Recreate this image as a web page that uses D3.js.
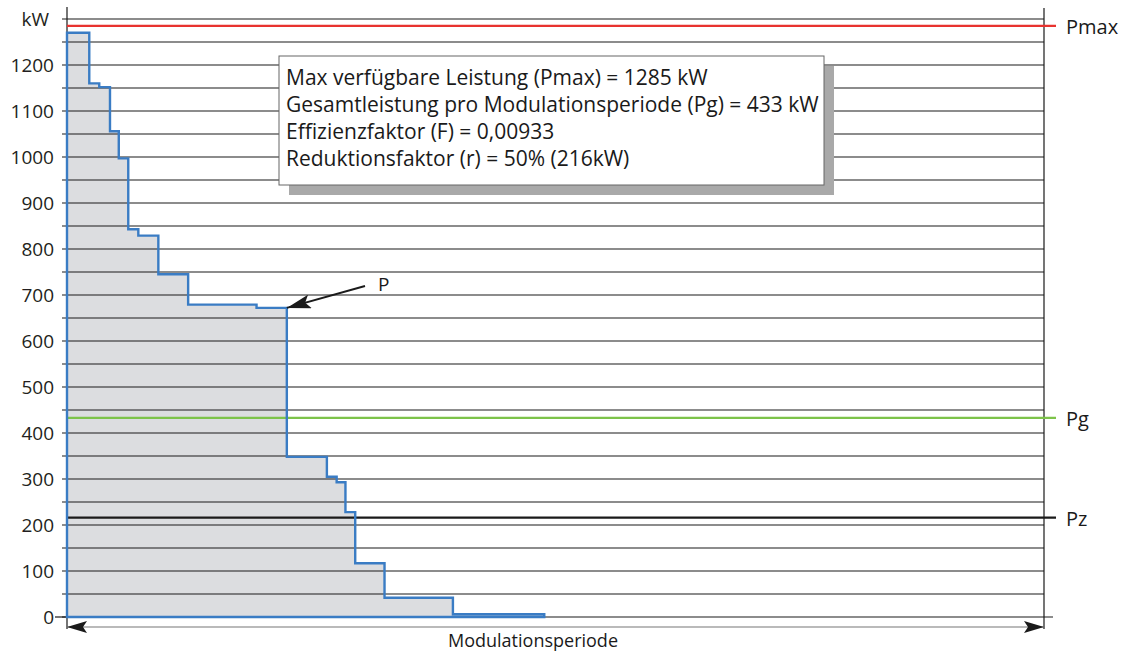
<!DOCTYPE html>
<html><head><meta charset="utf-8">
<script src="https://cdn.jsdelivr.net/npm/d3@7"></script>
<style>
html,body{margin:0;padding:0;background:#fff;}
svg{display:block;}
</style></head>
<body>
<svg id="chart" width="1125" height="652"></svg>
<script>
// ---- data ----
const stepStarts = [0, 2.28, 3.3, 4.4, 5.3, 6.27, 7.3, 9.35, 12.4, 19.4, 22.5, 26.6, 27.6, 28.5, 29.5, 32.5, 39.5];
const stepValues = [1270, 1160, 1152, 1056, 997, 843, 829, 745, 679, 672, 348, 305, 293, 228, 117, 42, 6];
const periodEnd = 48.85;
const yTickLabels = [0,100,200,300,400,500,600,700,800,900,1000,1100,1200];
const gridValues = d3.range(0, 1301, 50);
const refLines = [
  {name: "Pmax", value: 1285, color: "#e8332f"},
  {name: "Pg", value: 433, color: "#7dc34a"},
  {name: "Pz", value: 216, color: "#1a1a1a"}
];
const infoLines = [
  "Max verfügbare Leistung (Pmax) = 1285 kW",
  "Gesamtleistung pro Modulationsperiode (Pg) = 433 kW",
  "Effizienzfaktor (F) = 0,00933",
  "Reduktionsfaktor (r) = 50% (216kW)"
];
const xAxisTitle = "Modulationsperiode";
const yUnit = "kW";
const pointLabel = "P";

// ---- scales ----
const svg = d3.select("#chart");
const x = d3.scaleLinear().domain([0, 100]).range([67, 1044]);
const y = d3.scaleLinear().domain([0, 1300]).range([617, 19]);
const font = "'Open Sans', 'Noto Sans', sans-serif";

// ---- filled step area ----
const pts = [[x(0), y(0)]];
stepStarts.forEach((s, i) => {
  const e = i < stepStarts.length - 1 ? stepStarts[i + 1] : periodEnd;
  pts.push([x(s), y(stepValues[i])]);
  pts.push([x(e), y(stepValues[i])]);
});
pts.push([x(periodEnd), y(0)]);
const line = d3.line();
svg.append("path").attr("d", line(pts) + "Z")
  .attr("fill", "#dcdde0").attr("stroke", "none");

// ---- grid lines ----
svg.append("g").selectAll("line").data(gridValues).join("line")
  .attr("x1", 62).attr("x2", d => d === 0 ? 1053 : x(100))
  .attr("y1", d => y(d)).attr("y2", d => y(d))
  .attr("stroke", "#1a1a1a").attr("stroke-width", 1.2);

// zero tick longer
svg.append("line").attr("x1", 55).attr("x2", 67).attr("y1", y(0)).attr("y2", y(0))
  .attr("stroke", "#1a1a1a").attr("stroke-width", 1.2);

// ---- axes verticals ----
svg.append("line").attr("x1", x(0)).attr("x2", x(0)).attr("y1", 7).attr("y2", 629)
  .attr("stroke", "#1a1a1a").attr("stroke-width", 1.2);
svg.append("line").attr("x1", x(100)).attr("x2", x(100)).attr("y1", 8).attr("y2", 629)
  .attr("stroke", "#1a1a1a").attr("stroke-width", 1.2);

// ---- reference lines ----
refLines.forEach(r => {
  svg.append("line").attr("x1", x(0)).attr("x2", 1056)
    .attr("y1", y(r.value)).attr("y2", y(r.value))
    .attr("stroke", r.color).attr("stroke-width", r.name === "Pz" ? 2.2 : 2.2);
  svg.append("text").attr("x", 1066).attr("y", y(r.value) + 8)
    .attr("font-family", font).attr("font-size", 20).attr("fill", "#1a1a1a")
    .text(r.name);
});

// ---- step outline ----
svg.append("path").attr("d", line(pts) + "Z")
  .attr("fill", "none").attr("stroke", "#3a7cc4").attr("stroke-width", 2.4)
  .attr("stroke-linejoin", "miter");

// ---- y labels ----
svg.append("g").selectAll("text").data(yTickLabels).join("text")
  .attr("x", 54).attr("y", d => y(d) + 7)
  .attr("text-anchor", "end").attr("font-family", font).attr("font-size", 19)
  .attr("fill", "#231f20").text(d => d);
svg.append("text").attr("x", 49).attr("y", y(1300) + 7)
  .attr("text-anchor", "end").attr("font-family", font).attr("font-size", 19)
  .attr("fill", "#231f20").text(yUnit);

// ---- x axis double arrow ----
const defs = svg.append("defs");
defs.append("marker").attr("id", "ah").attr("viewBox", "0 0 20 12")
  .attr("refX", 20).attr("refY", 6).attr("markerWidth", 20).attr("markerHeight", 12)
  .attr("markerUnits", "userSpaceOnUse").attr("orient", "auto-start-reverse")
  .append("path").attr("d", "M0,0 L20,6 L0,12 L4,6 Z").attr("fill", "#1a1a1a");
svg.append("line").attr("x1", x(0)).attr("x2", x(100)).attr("y1", 627).attr("y2", 627)
  .attr("stroke", "#777").attr("stroke-width", 1.2)
  .attr("marker-start", "url(#ah)").attr("marker-end", "url(#ah)");
svg.append("text").attr("x", 533).attr("y", 647).attr("text-anchor", "middle")
  .attr("font-family", font).attr("font-size", 18).attr("fill", "#1a1a1a").text(xAxisTitle);

// ---- P arrow ----
const pIdx = 9;
const px = x(stepStarts[pIdx + 1]), py = y(stepValues[pIdx]);
defs.append("marker").attr("id", "ah2").attr("viewBox", "0 0 24 14")
  .attr("refX", 24).attr("refY", 7).attr("markerWidth", 24).attr("markerHeight", 14)
  .attr("markerUnits", "userSpaceOnUse").attr("orient", "auto")
  .append("path").attr("d", "M0,0 L24,7 L0,14 L5,7 Z").attr("fill", "#1a1a1a");
svg.append("line").attr("x1", 365).attr("y1", 286).attr("x2", px).attr("y2", py)
  .attr("stroke", "#1a1a1a").attr("stroke-width", 2).attr("marker-end", "url(#ah2)");
svg.append("text").attr("x", 378).attr("y", 291).attr("font-family", font)
  .attr("font-size", 19).attr("fill", "#1a1a1a").text(pointLabel);

// ---- info box ----
const bx = 279, by = 56, bw = 545, bh = 129;
svg.append("rect").attr("x", bx + 10).attr("y", by + 10).attr("width", bw).attr("height", bh)
  .attr("fill", "#a9a9a9");
svg.append("rect").attr("x", bx).attr("y", by).attr("width", bw).attr("height", bh)
  .attr("fill", "#fff").attr("stroke", "#666").attr("stroke-width", 1);
svg.append("g").selectAll("text").data(infoLines).join("text")
  .attr("x", 286).attr("y", (d, i) => 85 + i * 27)
  .attr("font-family", font).attr("font-size", 21).attr("fill", "#1a1a1a")
  .text(d => d);
</script>
</body></html>
